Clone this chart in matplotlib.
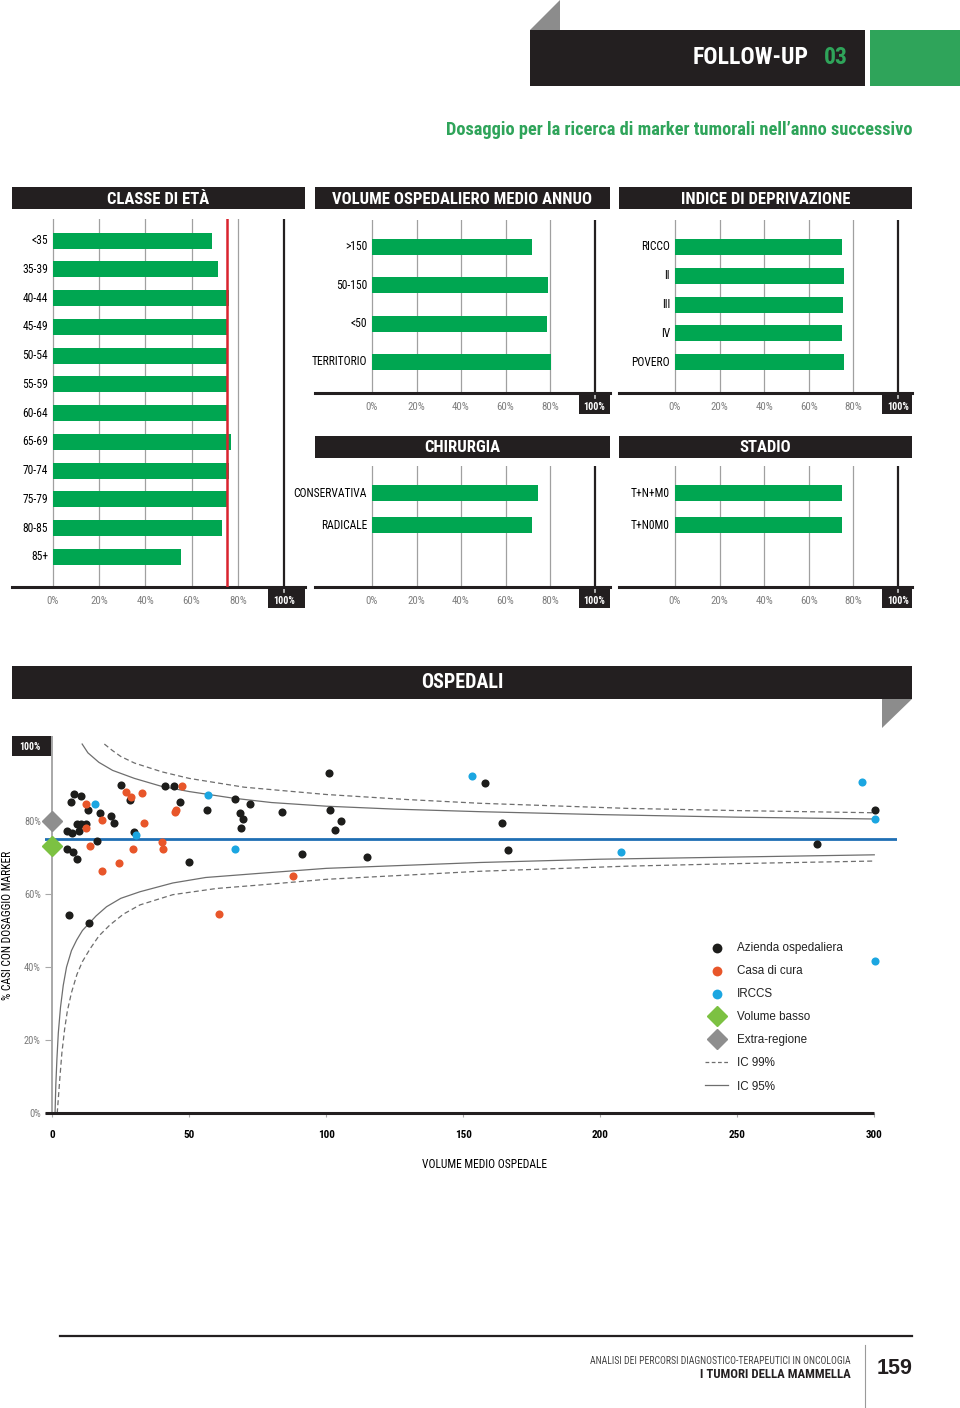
import matplotlib
matplotlib.use('Agg')
import matplotlib.pyplot as plt
from matplotlib import font_manager
from matplotlib.patches import Rectangle, Polygon
from matplotlib.lines import Line2D

# bar panels (% of cases with marker test)
age_labels = ['<35', '35-39', '40-44', '45-49', '50-54', '55-59', '60-64', '65-69', '70-74', '75-79', '80-85', '85+']
age_values = [68.8, 71.4, 76.3, 75.2, 75.2, 75.9, 75.2, 76.9, 76.3, 75.9, 73.0, 55.4]
overall_pct = 75.2

volume_labels = ['>150', '50-150', '<50', 'TERRITORIO']
volume_values = [71.9, 79.1, 78.7, 80.4]

depriv_labels = ['RICCO', 'II', 'III', 'IV', 'POVERO']
depriv_values = [74.8, 75.7, 75.2, 74.8, 75.7]

surgery_labels = ['CONSERVATIVA', 'RADICALE']
surgery_values = [74.6, 71.9]

stage_labels = ['T+N+M0', 'T+N0M0']
stage_values = [74.8, 74.8]

pct_ticks = [0, 20, 40, 60, 80, 100]

# funnel plot: hospitals
ao_volume = [6.8, 7.8, 10.6, 13.1, 17.4, 21.3, 22.4, 25.1, 28.4, 29.7, 16.4, 5.5, 7.1, 8.9, 10.4, 9.7,
             12.4, 5.5, 7.6, 8.9, 6.0, 13.5, 41.0, 44.5, 46.7, 49.9, 56.5, 66.8, 68.4, 69.5, 68.8, 72.2,
             83.9, 91.0, 101.1, 101.5, 105.5, 103.3, 114.9, 157.8, 164.1, 166.2, 279.1, 300.2]
ao_pct = [85.1, 87.3, 86.9, 83.0, 82.2, 81.3, 79.4, 89.7, 85.6, 76.9, 74.4, 77.3, 76.8, 79.1, 79.1, 77.2,
          79.1, 72.2, 71.4, 69.6, 54.2, 52.0, 89.5, 89.5, 85.2, 68.8, 82.9, 85.9, 82.2, 80.5, 77.9, 84.7,
          82.4, 71.0, 93.0, 83.0, 79.9, 77.4, 70.0, 90.3, 79.5, 71.9, 73.6, 83.0]

cc_volume = [12.4, 12.3, 13.9, 18.1, 18.0, 26.9, 28.7, 32.6, 33.4, 29.5, 24.5, 40.0, 40.4, 47.4, 44.8,
             45.1, 60.7, 88.0]
cc_pct = [84.7, 78.0, 73.1, 80.3, 66.2, 87.9, 86.5, 87.6, 79.3, 72.3, 68.4, 74.2, 72.3, 89.4, 82.3,
          83.0, 54.4, 65.0]

irccs_volume = [15.7, 30.7, 56.9, 66.8, 153.1, 207.7, 295.4, 300.2, 300.2]
irccs_pct = [84.7, 76.0, 87.1, 72.2, 92.3, 71.4, 90.5, 80.6, 41.7]

low_volume_pct = [73.1]
extra_region_pct = [79.9]
mean_pct = 75.1

up95_x = [10.9, 13, 17, 22, 30, 40, 50, 66, 80, 100, 125, 156, 200, 250, 300]
up95_y = [101.0, 98.6, 96.0, 93.8, 91.6, 89.4, 88.0, 86.2, 85.0, 84.0, 83.2, 82.5, 81.7, 81.0, 80.5]
lo95_x = [1.0, 1.3, 1.7, 2.2, 3, 4, 5.2, 7, 8.9, 11, 13.5, 16, 19.8, 25, 32, 44, 56, 75, 100, 156, 200, 250, 300]
lo95_y = [0, 8, 15, 22, 29, 35, 40, 44.5, 47.4, 50, 52, 54, 56.5, 58.8, 60.6, 63.0, 64.5, 65.6, 67.0, 68.6, 69.5, 70.1, 70.7]
up99_x = [19, 22, 25, 30, 40, 50, 70, 100, 130, 156, 210, 250, 300]
up99_y = [101.0, 99.2, 97.6, 95.8, 93.4, 91.6, 89.2, 87.2, 85.8, 84.8, 83.4, 82.8, 82.2]
lo99_x = [1.8, 2.2, 2.8, 3.5, 4.5, 5.5, 7, 9, 11, 13.8, 17, 21, 26, 32, 44, 60, 75, 100, 156, 210, 250, 300]
lo99_y = [0, 4, 10, 16.5, 23, 28, 33, 38, 41.5, 45, 48.5, 51.5, 54.5, 57, 59.8, 61.5, 62.4, 64.0, 66.2, 67.6, 68.3, 69.0]
volume_ticks = [0, 50, 100, 150, 200, 250, 300]

GREEN = '#00a651'
DARK = '#231f20'
HEAD_GREEN = '#2fa45a'
GRID = '#a0a0a0'

avail = {f.name for f in font_manager.fontManager.ttflist}
COND = next((f for f in ['Liberation Sans Narrow', 'Roboto Condensed', 'Open Sans Condensed'] if f in avail), 'DejaVu Sans')
STRETCH = 'normal' if COND != 'DejaVu Sans' else 'condensed'
SANS = 'Liberation Sans' if 'Liberation Sans' in avail else 'DejaVu Sans'

W, H = 960, 1408
fig = plt.figure(figsize=(W / 100, H / 100), dpi=100)
fig.patch.set_facecolor('white')

ov = fig.add_axes([0, 0, 1, 1], zorder=0)
ov.set_xlim(0, W)
ov.set_ylim(H, 0)
ov.axis('off')


def px_axes(x0, y0, x1, y1):
    ax = fig.add_axes([x0 / W, 1 - y1 / H, (x1 - x0) / W, (y1 - y0) / H], zorder=2)
    ax.set_facecolor('none')
    return ax


def ctext(x, y, s, size, color='black', weight='normal', ha='center', **kw):
    ov.text(x, y, s, fontsize=size, color=color, fontweight=weight, ha=ha, va='center',
            family=COND, fontstretch=STRETCH, **kw)


def title_bar(x0, x1, y0, y1, s, size=12):
    ov.add_patch(Rectangle((x0, y0), x1 - x0, y1 - y0, color=DARK, lw=0))
    ctext((x0 + x1) / 2, (y0 + y1) / 2 + 1, s, size, color='white', weight='bold')


# page header
ov.add_patch(Polygon([(530, 30), (560, 0), (560, 30)], closed=True, color='#8c8c8c', lw=0))
ov.add_patch(Rectangle((530, 30), 335, 56, color=DARK, lw=0))
ov.add_patch(Rectangle((870, 30), 90, 56, color=HEAD_GREEN, lw=0))
ctext(809, 57, 'FOLLOW-UP', 17, color='white', weight='bold', ha='right')
ctext(848, 57, '03', 17, color=HEAD_GREEN, weight='bold', ha='right')
ctext(912, 130, 'Dosaggio per la ricerca di marker tumorali nell\u2019anno successivo', 13.2,
      color=HEAD_GREEN, weight='bold', ha='right')


def bar_panel(x0, x1, ytop, yaxis, zero_px, full_px, first, step, labels, values, title, ty):
    scale = (full_px - zero_px) / 100
    ax = px_axes(x0, ytop, x1, yaxis)
    ax.set_xlim((x0 - zero_px) / scale, (x1 - zero_px) / scale)
    ax.set_ylim((yaxis - first) / step, -(first - ytop) / step)
    ax.barh(range(len(values)), values, height=16 / step, color=GREEN, zorder=2)
    for v in pct_ticks[:-1]:
        ax.axvline(v, color=GRID, lw=0.9, zorder=1)
    ax.axvline(100, color=DARK, lw=1.6, zorder=1)
    for sp in ['top', 'left', 'right']:
        ax.spines[sp].set_visible(False)
    ax.spines['bottom'].set_color(DARK)
    ax.spines['bottom'].set_linewidth(2.2)
    ax.set_xticks([])
    ax.set_yticks([])
    for i, lab in enumerate(labels):
        ax.annotate(lab, xy=(0, i), xytext=(-5, 0), textcoords='offset pixels', ha='right',
                    va='center', fontsize=8.3, family=COND, fontstretch=STRETCH)
    # 100% box
    bx = (full_px - 16 - zero_px) / scale
    ax.add_patch(Rectangle((bx, 0), (x1 - zero_px) / scale - bx, -21 / (yaxis - ytop),
                           transform=ax.get_xaxis_transform(), color=DARK, lw=0, clip_on=False))
    ax.plot([100, 100], [0, -5 / (yaxis - ytop)], transform=ax.get_xaxis_transform(),
            color='#cccccc', lw=1.2, clip_on=False)
    for v in pct_ticks:
        last = v == 100
        ax.annotate(f'{v}%', xy=(v, 0), xycoords=ax.get_xaxis_transform(), xytext=(0, -14),
                    textcoords='offset pixels', ha='center', va='center',
                    fontsize=7.2 if last else 7.8, family=COND, fontstretch=STRETCH,
                    color='white' if last else '#7f7f7f', fontweight='bold' if last else 'normal')
    title_bar(x0, x1, ty, ty + 22, title)
    return ax


ax1 = bar_panel(12, 305, 219, 587, 53, 284, 240.7, 28.75, age_labels, age_values, 'CLASSE DI ET\u00c0', 187)
ax1.axvline(overall_pct, color='#d9232e', lw=1.8, zorder=3)
bar_panel(315, 610, 220, 393, 372, 594.5, 247, 38.3, volume_labels, volume_values,
          'VOLUME OSPEDALIERO MEDIO ANNUO', 187)
bar_panel(619, 912, 220, 393, 675, 898, 247, 28.75, depriv_labels, depriv_values,
          'INDICE DI DEPRIVAZIONE', 187)
bar_panel(315, 610, 466, 587, 372, 594.5, 493, 32, surgery_labels, surgery_values, 'CHIRURGIA', 436)
bar_panel(619, 912, 466, 587, 675, 898, 493, 32, stage_labels, stage_values, 'STADIO', 436)

# OSPEDALI section
ov.add_patch(Rectangle((12, 666), 900, 33, color=DARK, lw=0))
ctext(462, 683, 'OSPEDALI', 14.5, color='white', weight='bold')
ov.add_patch(Polygon([(882, 699), (912, 699), (882, 728)], closed=True, color='#8c8c8c', lw=0))

ax = px_axes(45, 736, 897, 1113.3)
ax.set_xlim(-2.66, 308.3)
ax.set_ylim(0, 103.2)
for sp in ax.spines.values():
    sp.set_visible(False)
ax.axvline(0, color='#a8a8a8', lw=1.4, zorder=1)
ax.hlines(0, -2.66, 300, color=DARK, lw=2.2, zorder=4, clip_on=False)
ax.axhline(mean_pct, color='#1f6fb4', lw=2, zorder=2)

ax.plot(up95_x, up95_y, color='#6e6e6e', lw=0.9, zorder=1, label='IC 95%', clip_on=False)
ax.plot(lo95_x, lo95_y, color='#6e6e6e', lw=0.9, zorder=1)
ax.plot(up99_x, up99_y, color='#6e6e6e', lw=0.9, ls=(0, (4, 2.5)), zorder=1, label='IC 99%', clip_on=False)
ax.plot(lo99_x, lo99_y, color='#6e6e6e', lw=0.9, ls=(0, (4, 2.5)), zorder=1)

h_ao = ax.scatter(ao_volume, ao_pct, s=34, color='#1d1d1b', lw=0, zorder=3, label='Azienda ospedaliera')
h_cc = ax.scatter(cc_volume, cc_pct, s=34, color='#e8562a', lw=0, zorder=3, label='Casa di cura')
h_ir = ax.scatter(irccs_volume, irccs_pct, s=34, color='#1ba6e1', lw=0, zorder=3, label='IRCCS', clip_on=False)
h_lv, = ax.plot([0] * len(low_volume_pct), low_volume_pct, 'D', ms=10.5, color='#7cc142', zorder=5,
                clip_on=False, label='Volume basso', ls='none')
h_er, = ax.plot([0] * len(extra_region_pct), extra_region_pct, 'D', ms=10.5, color='#8e8e8e', zorder=5,
                clip_on=False, label='Extra-regione', ls='none')

ax.set_yticks([0, 20, 40, 60, 80], [f'{v}%' for v in [0, 20, 40, 60, 80]])
ax.tick_params(axis='y', direction='in', length=5, color='#a8a8a8', pad=3, labelsize=7.5,
               labelcolor='#7a7a7a')
ax.set_xticks(volume_ticks, [str(v) for v in volume_ticks])
ax.tick_params(axis='x', length=3, color='#a8a8a8', pad=9, labelsize=8)
for lab in ax.get_yticklabels() + ax.get_xticklabels():
    lab.set_family(COND)
    lab.set_fontstretch(STRETCH)
for lab in ax.get_xticklabels():
    lab.set_fontweight('bold')

ax.set_xlabel('VOLUME MEDIO OSPEDALE', fontsize=8.3, family=COND, fontstretch=STRETCH)
ax.xaxis.label.set_va('center')
ax.xaxis.set_label_coords((484 - 45) / 852, -(1165 - 1113.3) / 377.3)
ax.set_ylabel('% CASI CON DOSAGGIO MARKER', fontsize=8.3, family=COND, fontstretch=STRETCH)
ax.yaxis.label.set_va('center')
ax.yaxis.set_label_coords((8 - 45) / 852, (1113.3 - 925) / 377.3)

# 100% box top-left
ov.add_patch(Rectangle((12, 736), 40, 20, color=DARK, lw=0))
ctext(30, 746.5, '100%', 7, color='white', weight='bold')

h99 = Line2D([], [], color='#6e6e6e', lw=0.9, ls=(0, (3, 2)))
h95 = Line2D([], [], color='#6e6e6e', lw=0.9)
leg = ax.legend([h_ao, h_cc, h_ir, h_lv, h_er, h99, h95],
                ['Azienda ospedaliera', 'Casa di cura', 'IRCCS', 'Volume basso', 'Extra-regione',
                 'IC 99%', 'IC 95%'],
                loc='upper left', bbox_to_anchor=(705 / W, 1 - 942 / H), bbox_transform=fig.transFigure,
                frameon=False, borderpad=0, borderaxespad=0, handlelength=2.0, handletextpad=0.75,
                labelspacing=0.95, scatterpoints=1, prop={'family': SANS, 'size': 8.4})
for t in leg.get_texts():
    t.set_color('#222222')
for hnd in leg.legend_handles[:3]:
    hnd.set_sizes([50])

# footer
ov.plot([60, 912], [1336, 1336], color=DARK, lw=1.6)
ov.plot([865, 865], [1345, 1408], color='#9a9a9a', lw=0.8)
ctext(851, 1361, 'ANALISI DEI PERCORSI DIAGNOSTICO-TERAPEUTICI IN ONCOLOGIA', 7, color='#444444', ha='right')
ctext(851, 1374, 'I TUMORI DELLA MAMMELLA', 9.2, color=DARK, weight='bold', ha='right')
ov.text(877, 1369, '159', fontsize=15.5, fontweight='bold', family=SANS, color=DARK, ha='left', va='center')

fig.savefig('out.png', dpi=100, facecolor='white')
